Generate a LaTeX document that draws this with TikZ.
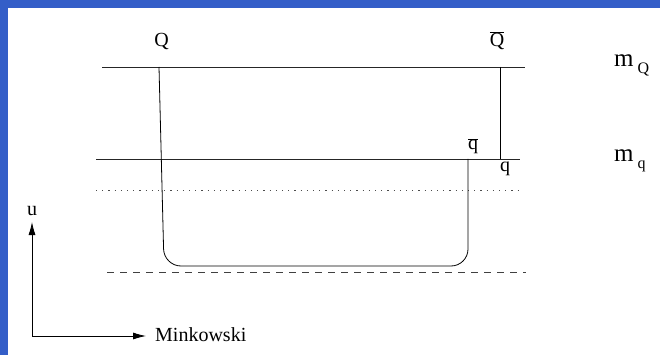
\documentclass[tikz,border=0pt]{standalone}
\usepackage{fontspec}
\setmainfont{Liberation Serif}
\usetikzlibrary{arrows.meta}
\definecolor{frameblue}{RGB}{52,94,200}
\tikzset{
  lbl/.style={inner sep=0pt, anchor=base, font=\fontsize{20}{24}\selectfont},
  mlbl/.style={inner sep=0pt, anchor=base west, font=\fontsize{25}{30}\selectfont},
  level/.style={line width=0.8pt, black!85},
  quark/.style={line width=0.8pt, black},
  axis/.style={line width=0.8pt, -{Latex[length=13pt,width=7pt]}},
}
\newcommand{\subl}[1]{\raisebox{-7pt}{\fontsize{16}{19}\selectfont #1}}
\begin{document}
\begin{tikzpicture}[x=1pt,y=-1pt]
\useasboundingbox (0,0) rectangle (660,355);
\fill[white] (0,0) rectangle (660,355);
\fill[frameblue] (0,0) rectangle (8,355);
\fill[frameblue] (0,0) rectangle (660,8);
% labels
\node[lbl] (Q) at (161.5,47) {Q};
\node[lbl] (Qb) at (497,47) {$\overline{\mbox{Q}}$};
\node[lbl] (qb) at (473,150) {$\overline{\mbox{q}}$};
\node[lbl] (q) at (505,172) {q};
\node[mlbl] (mQ) at (614,67) {m\hspace{4pt}\subl{Q}};
\node[mlbl] (mq) at (614,162) {m\hspace{4pt}\subl{q}};
\node[lbl] (u) at (32,215) {u};
\node[lbl, anchor=base west] (mk) at (155,341) {Minkowski};
% levels
\coordinate (t1) at (102,67); \coordinate (t2) at (525,67);
\coordinate (b1) at (96,159); \coordinate (b2) at (520,159);
\coordinate (d1) at (96,190); \coordinate (d2) at (520,190);
\coordinate (h1) at (107,272); \coordinate (h2) at (526,272);
\draw[level] (t1) -- (t2);
\draw[level] (b1) -- (b2);
\draw[line width=0.8pt, black!70, dash pattern=on 1.2pt off 5pt] (d1) -- (d2);
\draw[line width=0.8pt, black!75, dash pattern=on 7pt off 6pt] (h1) -- (h2);
% quark lines
\coordinate (qa) at (159,67);
\coordinate (qc1) at (164,266);
\coordinate (qc2) at (468,266);
\coordinate (qe) at (468,159);
\draw[quark, rounded corners=17pt] (qa) -- (qc1) -- (qc2) -- (qe);
\coordinate (Qa) at (500,67);
\coordinate (Qe) at (500,159);
\draw[quark] (Qa) -- (Qe);
% axes
\coordinate (o) at (32,336);
\coordinate (ue) at (32,222);
\coordinate (me) at (146,336);
\draw[axis] (o) -- (ue);
\draw[axis] (o) -- (me);
\end{tikzpicture}
\end{document}
